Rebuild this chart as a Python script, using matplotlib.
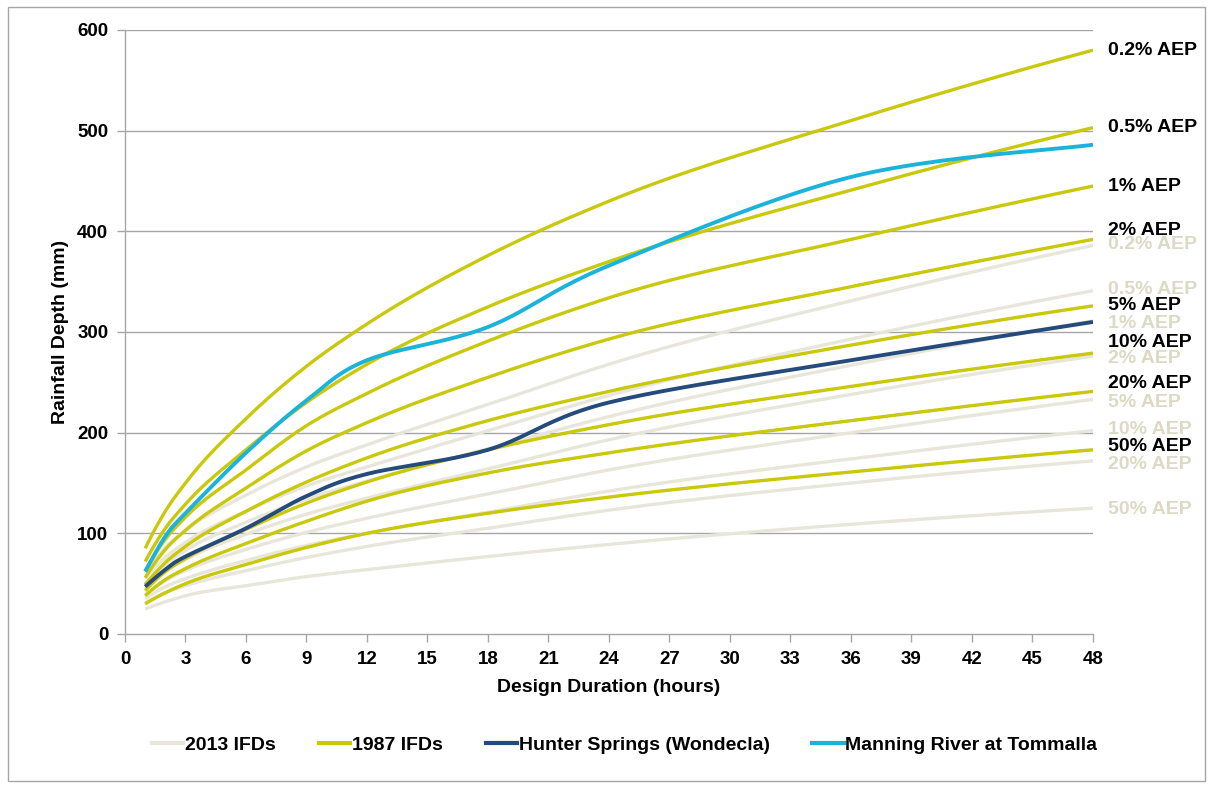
import numpy as np
import matplotlib.pyplot as plt
from matplotlib.lines import Line2D
from matplotlib.patches import Rectangle

plt.rcParams['font.family'] = ['Liberation Sans', 'DejaVu Sans']

# Design durations (hours) at which the curves were read
durations = [1, 2, 3, 6, 9, 12, 18, 24, 36, 48]
aep_names = ['0.2% AEP', '0.5% AEP', '1% AEP', '2% AEP', '5% AEP', '10% AEP', '20% AEP', '50% AEP']

# 1987 IFDs (mm), one row per AEP
ifd_1987 = [
    [85, 122, 150, 214, 266, 308, 376, 430, 510, 580],
    [72, 105, 129, 183, 230, 268, 325, 370, 441, 503],
    [63, 94, 116, 163, 207, 239, 291, 334, 392, 445],
    [56, 84, 103, 145, 182, 210, 255, 293, 345, 392],
    [49, 71, 87, 122, 151, 175, 212, 241, 287, 326],
    [43, 62, 75, 104, 130, 151, 183, 208, 246, 279],
    [38, 54, 65, 90, 112, 132, 160, 180, 212, 241],
    [30, 41, 50, 69, 86, 100, 120, 136, 161, 183],
]

# 2013 IFDs (mm)
ifd_2013 = [
    [62, 86, 103, 138, 166, 188, 228, 268, 331, 386],
    [55, 76, 91, 122, 147, 166, 202, 237, 293, 341],
    [50, 69, 83, 111, 134, 152, 184, 216, 267, 311],
    [45, 62, 74, 99, 119, 135, 164, 193, 238, 276],
    [39, 53, 63, 84, 101, 115, 139, 163, 200, 233],
    [35, 47, 55, 73, 88, 100, 121, 142, 174, 202],
    [31, 41, 48, 63, 76, 87, 105, 123, 150, 172],
    [25, 32, 38, 48, 57, 64, 77, 89, 109, 125],
]

hunter = [47, 64, 77, 105, 137, 159, 183, 230, 272, 310]
manning = [62, 97, 120, 180, 232, 272, 305, 366, 454, 486]

# label heights on the right (mm)
label_y_1987 = [580, 503, 445, 401, 326, 290, 249, 186]
label_y_2013 = [387, 342, 308, 274, 230, 203, 168, 124]

c_2013 = '#E8E6DA'
c_2013_text = '#DDD9C4'
c_1987 = '#C9C80A'
c_hunter = '#244B7C'
c_manning = '#1AB4DA'
c_grid = '#A6A6A6'


def smooth(x, y, n=25):
    # Excel style smoothed line (Catmull-Rom Bezier)
    p = np.column_stack([x, y]).astype(float)
    p = np.vstack([p[0], p, p[-1]])
    t = np.linspace(0, 1, n)[:, None]
    out = []
    for i in range(len(p) - 3):
        p0, p1, p2, p3 = p[i], p[i + 1], p[i + 2], p[i + 3]
        b1 = p1 + (p2 - p0) / 6
        b2 = p2 - (p3 - p1) / 6
        seg = ((1 - t) ** 3) * p1 + 3 * ((1 - t) ** 2) * t * b1 + 3 * (1 - t) * t ** 2 * b2 + t ** 3 * p2
        out.append(seg if i == 0 else seg[1:])
    out = np.vstack(out)
    return out[:, 0], out[:, 1]


def hermite(x, y, n=30):
    # cubic Hermite in x, slopes from the local parabola
    x = np.asarray(x, float)
    y = np.asarray(y, float)
    h = np.diff(x)
    d = np.diff(y) / h
    m = np.zeros_like(y)
    m[1:-1] = (h[:-1] * d[1:] + h[1:] * d[:-1]) / (h[:-1] + h[1:])
    m[0] = ((2 * h[0] + h[1]) * d[0] - h[0] * d[1]) / (h[0] + h[1])
    m[-1] = ((2 * h[-1] + h[-2]) * d[-1] - h[-1] * d[-2]) / (h[-1] + h[-2])
    xs, ys = [], []
    for i in range(len(x) - 1):
        t = np.linspace(0, 1, n)
        h00 = 2 * t ** 3 - 3 * t ** 2 + 1
        h10 = t ** 3 - 2 * t ** 2 + t
        h01 = -2 * t ** 3 + 3 * t ** 2
        h11 = t ** 3 - t ** 2
        xs.append(x[i] + t * h[i])
        ys.append(h00 * y[i] + h10 * h[i] * m[i] + h01 * y[i + 1] + h11 * h[i] * m[i + 1])
    return np.concatenate(xs), np.concatenate(ys)


fig = plt.figure(figsize=(12.11, 7.87), dpi=100)
ax = fig.add_axes([125 / 1211, 1 - 634 / 787, (1093 - 125) / 1211, (634 - 30) / 787])

for yv in range(100, 700, 100):
    ax.plot([0, 48], [yv, yv], color=c_grid, lw=1, zorder=1)

for row in ifd_2013:
    sx, sy = hermite(durations, row)
    ax.plot(sx, sy, color=c_2013, lw=2.4, solid_capstyle='butt', zorder=2)
for row in ifd_1987:
    sx, sy = hermite(durations, row)
    ax.plot(sx, sy, color=c_1987, lw=2.4, solid_capstyle='butt', zorder=3)

sx, sy = smooth(durations, hunter)
ax.plot(sx, sy, color=c_hunter, lw=2.8, solid_capstyle='butt', zorder=4)
sx, sy = smooth(durations, manning)
ax.plot(sx, sy, color=c_manning, lw=2.8, solid_capstyle='butt', zorder=5)

for name, yv in zip(aep_names, label_y_2013):
    ax.text(48.75, yv, name, color=c_2013_text, fontsize=14, fontweight='bold',
            va='center', ha='left', clip_on=False)
for name, yv in zip(aep_names, label_y_1987):
    ax.text(48.75, yv, name, color='black', fontsize=14, fontweight='bold',
            va='center', ha='left', clip_on=False)

ax.set_xlim(0, 48)
ax.set_ylim(0, 600)
ax.set_xticks(range(0, 49, 3))
ax.set_yticks(range(0, 601, 100))
for s in ['top', 'right']:
    ax.spines[s].set_visible(False)
for s in ['left', 'bottom']:
    ax.spines[s].set_color(c_grid)
    ax.spines[s].set_linewidth(1)
ax.tick_params(direction='out', length=6, width=1, color=c_grid, labelsize=13.5, pad=6)
for lab in ax.get_xticklabels() + ax.get_yticklabels():
    lab.set_fontweight('bold')

ax.set_xlabel('Design Duration (hours)', fontsize=14, fontweight='bold', labelpad=8)
ax.set_ylabel('Rainfall Depth (mm)', fontsize=14, fontweight='bold', labelpad=6)

handles = [
    Line2D([], [], color=c_2013, lw=3),
    Line2D([], [], color=c_1987, lw=3),
    Line2D([], [], color=c_hunter, lw=3),
    Line2D([], [], color=c_manning, lw=3),
]
labels = ['2013 IFDs', '1987 IFDs', 'Hunter Springs (Wondecla)', 'Manning River at Tommalla']
leg = fig.legend(handles, labels, loc='center', bbox_to_anchor=(0.516, 1 - 745 / 787),
                 ncol=4, frameon=False, handlelength=1.6, handletextpad=0.1,
                 columnspacing=2.2, prop={'size': 14, 'weight': 'bold'})

fig.patches.append(Rectangle((8 / 1211, 1 - 781 / 787), 1197 / 1211, 774 / 787,
                             transform=fig.transFigure, fill=False,
                             edgecolor='#A6A6A6', lw=1))

fig.savefig('out.png', dpi=100)
